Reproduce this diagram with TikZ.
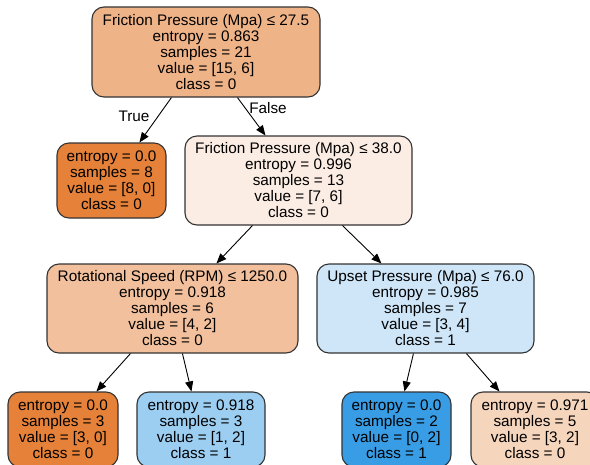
\documentclass[tikz,border=0pt]{standalone}
\usepackage{fontspec}
\setmainfont{Liberation Sans}
\usetikzlibrary{calc,arrows.meta}

% class colours, blended with white by purity
\definecolor{cA}{HTML}{E58139}
\definecolor{cB}{HTML}{399DE5}
\definecolor{rootfill}{HTML}{EFB388}
\definecolor{nbfill}{HTML}{FBEDE3}
\definecolor{ncfill}{HTML}{F2C09C}
\definecolor{ndfill}{HTML}{CEE6F8}
\definecolor{lbfill}{HTML}{9CCEF2}
\definecolor{ldfill}{HTML}{F6D5BD}

\begin{document}
\begin{tikzpicture}[x=1pt,y=-1pt,
  treebox/.style={draw=black!80, line width=1.1pt, rounded corners=12pt,
    align=center, inner sep=0pt, font=\fontsize{15.3}{16}\selectfont},
  edge/.style={line width=0.9pt, -{Triangle[length=10pt,width=8pt]}},
  lbl/.style={font=\fontsize{15.3}{16}\selectfont, inner sep=0pt}]
\useasboundingbox (0,0) rectangle (590,464);
\clip (0,0) rectangle (590,464);

% split nodes
\node[treebox, fill=rootfill, minimum width=228pt, minimum height=90pt] (root) at (206,52)
  {Friction Pressure (Mpa) ≤ 27.5\\entropy = 0.863\\samples = 21\\value = [15, 6]\\class = 0};
\node[treebox, fill=nbfill, minimum width=227pt, minimum height=89pt] (fp) at (298.5,180.5)
  {Friction Pressure (Mpa) ≤ 38.0\\entropy = 0.996\\samples = 13\\value = [7, 6]\\class = 0};
\node[treebox, fill=ncfill, minimum width=251pt, minimum height=89pt] (rs) at (172.5,308.5)
  {Rotational Speed (RPM) ≤ 1250.0\\entropy = 0.918\\samples = 6\\value = [4, 2]\\class = 0};
\node[treebox, fill=ndfill, minimum width=217pt, minimum height=89pt] (up) at (425.5,308.5)
  {Upset Pressure (Mpa) ≤ 76.0\\entropy = 0.985\\samples = 7\\value = [3, 4]\\class = 1};

% leaves
\node[treebox, fill=cA, minimum width=109pt, minimum height=75pt] (l1) at (111.5,180.5)
  {entropy = 0.0\\samples = 8\\value = [8, 0]\\class = 0};
\node[treebox, fill=cA, minimum width=110pt, minimum height=75pt] (la) at (63,429.5)
  {entropy = 0.0\\samples = 3\\value = [3, 0]\\class = 0};
\node[treebox, fill=lbfill, minimum width=128pt, minimum height=75pt] (lb) at (201,429.5)
  {entropy = 0.918\\samples = 3\\value = [1, 2]\\class = 1};
\node[treebox, fill=cB, minimum width=109pt, minimum height=75pt] (lc) at (396.5,429.5)
  {entropy = 0.0\\samples = 2\\value = [0, 2]\\class = 1};
\node[treebox, fill=ldfill, minimum width=128pt, minimum height=75pt] (ld) at (535,429.5)
  {entropy = 0.971\\samples = 5\\value = [3, 2]\\class = 0};

% connectors
\draw[edge] ($(root.south west)+(80,0)$) -- ($(l1.north west)+(83,0)$);
\draw[edge] ($(root.south west)+(146,0)$) -- ($(fp.north west)+(81,0)$);
\draw[edge] ($(fp.south west)+(68,0)$) -- ($(rs.north west)+(170,0)$);
\draw[edge] ($(fp.south west)+(158,0)$) -- ($(up.north west)+(65,0)$);
\draw[edge] ($(rs.south west)+(84,0)$) -- ($(la.north west)+(89,0)$);
\draw[edge] ($(rs.south west)+(136,0)$) -- ($(lb.north west)+(55,0)$);
\draw[edge] ($(up.south west)+(97,0)$) -- ($(lc.north west)+(63,0)$);
\draw[edge] ($(up.south west)+(150,0)$) -- ($(ld.north west)+(29,0)$);

% branch labels
\node[lbl] (tlab) at (134,116) {True};
\node[lbl] (flab) at (268,108) {False};
\end{tikzpicture}
\end{document}
